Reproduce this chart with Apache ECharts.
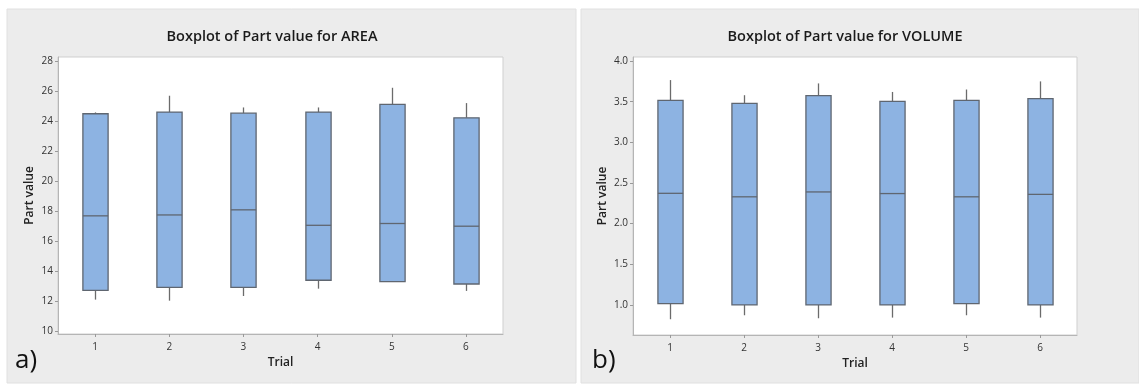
<!DOCTYPE html>
<html>
<head>
<meta charset="utf-8">
<script src="https://cdn.jsdelivr.net/npm/echarts@6/dist/echarts.min.js"></script>
<style>
html,body{margin:0;padding:0;background:#fff;}
#c{width:1139px;height:385px;}
</style>
</head>
<body>
<div id="c"></div>
<script>
// ---- data ----
const trials = ['1', '2', '3', '4', '5', '6'];
// [min, Q1, median, Q3, max]
const areaStats = [
  [12.09, 12.71, 17.67, 24.47, 24.56],
  [12.02, 12.91, 17.73, 24.58, 25.67],
  [12.33, 12.91, 18.07, 24.51, 24.89],
  [12.82, 13.38, 17.04, 24.58, 24.89],
  [13.29, 13.29, 17.16, 25.09, 26.20],
  [12.67, 13.13, 16.98, 24.20, 25.18]
];
const volumeStats = [
  [0.824, 1.016, 2.373, 3.516, 3.766],
  [0.873, 1.000, 2.330, 3.480, 3.580],
  [0.836, 1.000, 2.390, 3.574, 3.725],
  [0.844, 1.000, 2.370, 3.504, 3.620],
  [0.873, 1.016, 2.330, 3.516, 3.650],
  [0.844, 1.000, 2.360, 3.537, 3.750]
];
const areaTicks = [10, 12, 14, 16, 18, 20, 22, 24, 26, 28];
const volumeTicks = [1.0, 1.5, 2.0, 2.5, 3.0, 3.5, 4.0];
const titles = ['Boxplot of Part value for AREA', 'Boxplot of Part value for VOLUME'];

const FONT = '"Open Sans", "Noto Sans", sans-serif';
const BOX_FILL = '#8db3e2';
const BOX_STROKE = '#5f6670';
const WHISKER = '#6b6b6b';

function renderBox(params, api) {
  const x = api.value(0);
  const lo = api.coord([x, api.value(1)]);
  const q1 = api.coord([x, api.value(2)]);
  const md = api.coord([x, api.value(3)]);
  const q3 = api.coord([x, api.value(4)]);
  const hi = api.coord([x, api.value(5)]);
  const half = api.size([1, 0])[0] * 0.17;
  const cx = Math.round(q1[0]) + 0.5;
  return {
    type: 'group',
    children: [
      {type: 'line', shape: {x1: cx, y1: hi[1], x2: cx, y2: q3[1]}, style: {stroke: WHISKER, lineWidth: 1.3}},
      {type: 'line', shape: {x1: cx, y1: q1[1], x2: cx, y2: lo[1]}, style: {stroke: WHISKER, lineWidth: 1.3}},
      {type: 'rect', shape: {x: cx - half, y: q3[1], width: half * 2, height: q1[1] - q3[1]},
        style: {fill: BOX_FILL, stroke: BOX_STROKE, lineWidth: 1.3}},
      {type: 'line', shape: {x1: cx - half, y1: md[1], x2: cx + half, y2: md[1]}, style: {stroke: BOX_STROKE, lineWidth: 1.3}}
    ]
  };
}

function toData(stats) {
  return stats.map((s, i) => [i].concat(s));
}

const chart = echarts.init(document.getElementById('c'), null, {renderer: 'canvas'});

function yAxisCfg(idx, min, max, ticks, fmt) {
  return {
    type: 'value', gridIndex: idx, min: min, max: max,
    name: 'Part value', nameLocation: 'middle', nameGap: idx === 0 ? 22 : 24,
    nameTextStyle: {fontFamily: FONT, fontSize: 12, fontWeight: 600, color: '#222'},
    axisLine: {show: true, lineStyle: {color: '#b5b5b5', width: 1}},
    axisTick: {show: true, length: 3, inside: false, customValues: ticks, lineStyle: {color: '#999'}},
    axisLabel: {customValues: ticks, fontFamily: FONT, fontSize: 10, color: '#333', margin: 5, formatter: fmt},
    splitLine: {show: false}
  };
}
function xAxisCfg(idx) {
  return {
    type: 'category', gridIndex: idx, data: trials,
    name: 'Trial', nameLocation: 'middle', nameGap: 23,
    nameTextStyle: {fontFamily: FONT, fontSize: 12, fontWeight: 600, color: '#222'},
    axisLine: {show: true, lineStyle: {color: '#b5b5b5', width: 1}},
    axisTick: {show: true, alignWithLabel: true, length: 3, lineStyle: {color: '#999'}},
    axisLabel: {fontFamily: FONT, fontSize: 10, color: '#333', margin: 8},
    splitLine: {show: false}
  };
}

const option = {
  backgroundColor: '#ffffff',
  animation: false,
  graphic: [
    {type: 'rect', z: -10, shape: {x: 7, y: 9, width: 569, height: 374}, style: {fill: '#ececec', stroke: '#e0e0e0'}},
    {type: 'rect', z: -10, shape: {x: 581, y: 9, width: 558, height: 374}, style: {fill: '#ececec', stroke: '#e0e0e0'}},
    {type: 'text', left: 15, top: 348, style: {text: 'a)', font: '26px ' + FONT, fill: '#111'}},
    {type: 'text', left: 592, top: 348, style: {text: 'b)', font: '26px ' + FONT, fill: '#111'}}
  ],
  title: [
    {text: titles[0], left: 267, top: 24, textAlign: 'center',
      textStyle: {fontFamily: FONT, fontSize: 14.5, fontWeight: 600, color: '#1a1a1a'}},
    {text: titles[1], left: 840, top: 24, textAlign: 'center',
      textStyle: {fontFamily: FONT, fontSize: 14.5, fontWeight: 600, color: '#1a1a1a'}}
  ],
  grid: [
    {left: 58, top: 57, width: 445, height: 277, show: true, backgroundColor: '#fff', borderColor: '#cfcfcf', borderWidth: 1},
    {left: 633, top: 57, width: 444, height: 278, show: true, backgroundColor: '#fff', borderColor: '#cfcfcf', borderWidth: 1}
  ],
  xAxis: [xAxisCfg(0), xAxisCfg(1)],
  yAxis: [
    yAxisCfg(0, 9.8, 28.25, areaTicks, v => String(Math.round(v))),
    yAxisCfg(1, 0.63, 4.05, volumeTicks, v => v.toFixed(1))
  ],
  series: [
    {type: 'custom', xAxisIndex: 0, yAxisIndex: 0, renderItem: renderBox,
      encode: {x: 0, y: [1, 2, 3, 4, 5]}, data: toData(areaStats)},
    {type: 'custom', xAxisIndex: 1, yAxisIndex: 1, renderItem: renderBox,
      encode: {x: 0, y: [1, 2, 3, 4, 5]}, data: toData(volumeStats)}
  ]
};
chart.setOption(option);
</script>
</body>
</html>
